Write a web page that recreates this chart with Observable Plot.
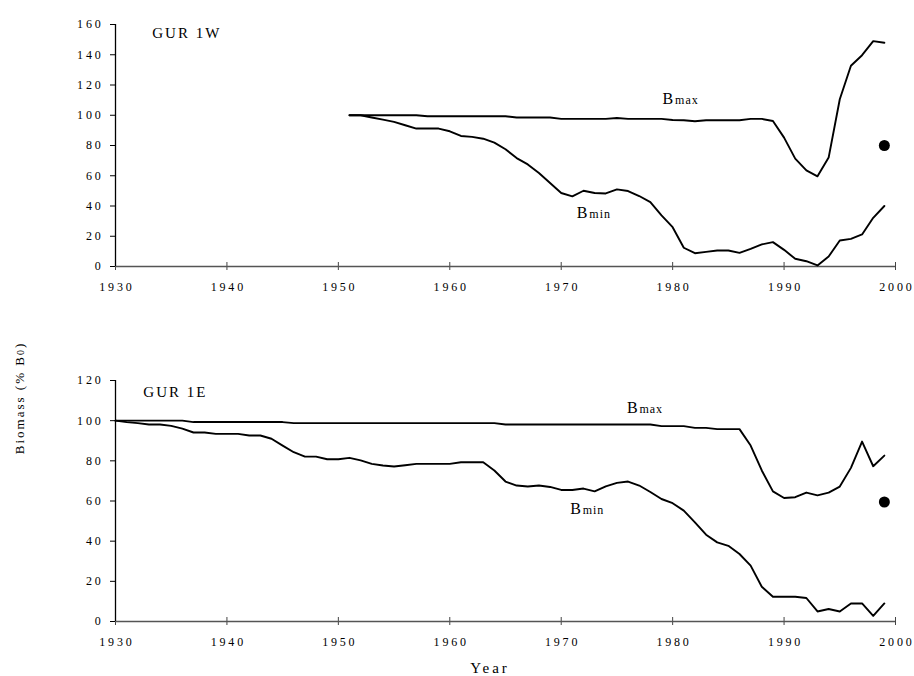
<!DOCTYPE html>
<html>
<head>
<meta charset="utf-8">
<script src="https://cdn.jsdelivr.net/npm/d3@7"></script>
<script src="https://cdn.jsdelivr.net/npm/@observablehq/plot@0.6"></script>
<style>
  body { margin: 0; background: white; }
  #fig { position: relative; width: 914px; height: 676px; background: white; font-family: "Liberation Serif", "Times New Roman", serif; color: #000; }
  #fig svg { position: absolute; left: 0; z-index: 0; }
  #fig svg text { font-family: "Liberation Serif", "Times New Roman", serif; }
  g[aria-label="x-axis tick label"] text, g[aria-label="y-axis tick label"] text { letter-spacing: 2.8px; }
  #ylab { position: absolute; z-index: 2; left: 20px; top: 398px; transform: translate(-50%, -50%) rotate(-90deg); white-space: nowrap; font-size: 13px; letter-spacing: 2px; }
  #xlab { position: absolute; z-index: 2; left: 490px; top: 668px; transform: translate(-50%, -50%); white-space: nowrap; font-size: 15px; letter-spacing: 3px; }
</style>
</head>
<body>
<div id="fig">
  <div id="ylab">Biomass (% B<span style="font-size:10px">0</span>)</div>
  <div id="xlab">Year</div>
</div>
<script>
// ---------- data ----------
const xTicks = [1930, 1940, 1950, 1960, 1970, 1980, 1990, 2000];
const yTicks1W = [0, 20, 40, 60, 80, 100, 120, 140, 160];
const yTicks1E = [0, 20, 40, 60, 80, 100, 120];

// GUR 1W
const years1W = [1951,1952,1953,1954,1955,1956,1957,1958,1959,1960,
  1961,1962,1963,1964,1965,1966,1967,1968,1969,1970,
  1971,1972,1973,1974,1975,1976,1977,1978,1979,1980,
  1981,1982,1983,1984,1985,1986,1987,1988,1989,1990,
  1991,1992,1993,1994,1995,1996,1997,1998,1999];
const bmax1W = [100,100,100,100,100,100,100,99.3,99.3,99.3,
  99.3,99.3,99.3,99.3,99.3,98.5,98.5,98.5,98.5,97.6,
  97.6,97.6,97.6,97.6,98.2,97.6,97.6,97.6,97.6,96.9,
  96.7,96.0,96.7,96.7,96.7,96.7,97.6,97.6,96.2,85.2,
  71.3,63.6,59.6,72,110.6,132.7,139.7,149,147.9];
const bmin1W = [100,100,98.5,97.1,95.6,93.4,91.2,91.2,91.2,89.4,
  86.3,85.7,84.5,81.9,77.5,71.7,67.5,61.8,55.2,48.6,
  46.4,50.1,48.6,48.3,51,49.9,46.6,42.6,33.8,26.0,
  12.4,8.8,9.7,10.6,10.6,9.0,11.7,14.6,16.1,11.0,
  5.1,3.5,0.7,6.6,17.2,18.3,21.2,32.2,40];
const point1W = [{year: 1999, value: 80}];

// GUR 1E
const years1E = [1930,1931,1932,1933,1934,1935,1936,1937,1938,1939,
  1940,1941,1942,1943,1944,1945,1946,1947,1948,1949,
  1950,1951,1952,1953,1954,1955,1956,1957,1958,1959,
  1960,1961,1962,1963,1964,1965,1966,1967,1968,1969,
  1970,1971,1972,1973,1974,1975,1976,1977,1978,1979,
  1980,1981,1982,1983,1984,1985,1986,1987,1988,1989,
  1990,1991,1992,1993,1994,1995,1996,1997,1998,1999];
const bmax1E = [100,100,100,100,100,100,100,99.3,99.3,99.3,
  99.3,99.3,99.3,99.3,99.3,99.3,98.8,98.8,98.8,98.8,
  98.8,98.8,98.8,98.8,98.8,98.8,98.8,98.8,98.8,98.8,
  98.8,98.8,98.8,98.8,98.8,98.1,98.1,98.1,98.1,98.1,
  98.1,98.1,98.1,98.1,98.1,98.1,98.1,98.1,98.1,97.3,
  97.3,97.3,96.4,96.4,95.8,95.8,95.8,87.6,75.2,64.8,
  61.5,61.9,64.2,62.8,64.2,67.2,76.5,89.6,77.3,82.6];
const bmin1E = [100,99.3,98.8,98.1,98.1,97.4,96.0,94.1,94.1,93.4,
  93.4,93.4,92.6,92.6,91.0,87.6,84.3,82.1,82.1,80.8,
  80.8,81.5,80.2,78.5,77.7,77.2,77.8,78.5,78.5,78.5,
  78.5,79.3,79.3,79.3,75.2,69.7,67.7,67.2,67.7,67.0,
  65.5,65.5,66.2,64.8,67.3,69.0,69.7,67.7,64.5,61.0,
  58.9,55.2,49.4,43.2,39.4,37.7,33.6,27.8,17.3,12.3,
  12.3,12.3,11.7,5.0,6.2,5.0,9.0,9.0,2.8,9.0];
const point1E = [{year: 1999, value: 59.5}];

// annotations
const labels1W = [
  {year: 1979.1, value: 107.3, main: "B", sub: "max"},
  {year: 1971.4, value: 32, main: "B", sub: "min"}
];
const labels1E = [
  {year: 1975.9, value: 103.7, main: "B", sub: "max"},
  {year: 1970.8, value: 53.6, main: "B", sub: "min"}
];
const panel1W = [{year: 1933.3, value: 150.8, text: "GUR 1W"}];
const panel1E = [{year: 1932.5, value: 112, text: "GUR 1E"}];

// ---------- drawing ----------
function panel({top, height, marginTop, marginBottom, yDomain, yTicks, years, bmax, bmin, point, labels, plabel}) {
  const maxData = years.map((year, i) => ({year, value: bmax[i]}));
  const minData = years.map((year, i) => ({year, value: bmin[i]}));
  const chart = Plot.plot({
    width: 914,
    height,
    marginLeft: 115,
    marginRight: 19,
    marginTop,
    marginBottom,
    style: {fontFamily: "'Liberation Serif', 'Times New Roman', serif", fontSize: "12px", background: "white", color: "black"},
    x: {domain: [1930, 2000], label: null},
    y: {domain: yDomain, label: null},
    marks: [
      Plot.axisY({ticks: yTicks, tickSize: 5, tickPadding: 7, label: null, fontSize: 12, stroke: "black"}),
      Plot.axisX({ticks: xTicks, tickSize: 8, dy: -4, tickFormat: () => "", label: null, stroke: "#444"}),
      Plot.axisX({ticks: xTicks, tickSize: 0, tickPadding: 16, dx: 1.4, tickFormat: d => String(d), label: null, fontSize: 12}),
      Plot.ruleY([yDomain[0]], {stroke: "#555", strokeWidth: 1.3}),
      Plot.ruleX([1930], {stroke: "black", strokeWidth: 1.3}),
      Plot.line(maxData, {x: "year", y: "value", stroke: "black", strokeWidth: 1.9}),
      Plot.line(minData, {x: "year", y: "value", stroke: "black", strokeWidth: 1.9}),
      Plot.dot(point, {x: "year", y: "value", r: 5.5, fill: "black", stroke: "none"}),
      Plot.text(labels, {x: "year", y: "value", text: "main", textAnchor: "start", lineAnchor: "bottom", fontSize: 16, fill: "black"}),
      Plot.text(labels, {x: "year", y: "value", text: "sub", textAnchor: "start", lineAnchor: "bottom", dx: 12.5, fontSize: 12, fill: "black"}),
      Plot.text(plabel, {x: "year", y: "value", text: "text", textAnchor: "start", lineAnchor: "bottom", fontSize: 15, fill: "black"})
    ]
  });
  chart.style.top = top + "px";
  // letter spacing for the annotation texts (sub labels and panel label)
  const textGroups = chart.querySelectorAll('g[aria-label="text"]');
  if (textGroups.length >= 3) {
    textGroups[1].style.letterSpacing = "1px";
    textGroups[2].style.letterSpacing = "2px";
  }
  document.getElementById("fig").appendChild(chart);
}

panel({top: 0, height: 300, marginTop: 24, marginBottom: 34, yDomain: [0, 160], yTicks: yTicks1W,
  years: years1W, bmax: bmax1W, bmin: bmin1W, point: point1W, labels: labels1W, plabel: panel1W});
panel({top: 300, height: 360, marginTop: 80, marginBottom: 39, yDomain: [0, 120], yTicks: yTicks1E,
  years: years1E, bmax: bmax1E, bmin: bmin1E, point: point1E, labels: labels1E, plabel: panel1E});
</script>
</body>
</html>
